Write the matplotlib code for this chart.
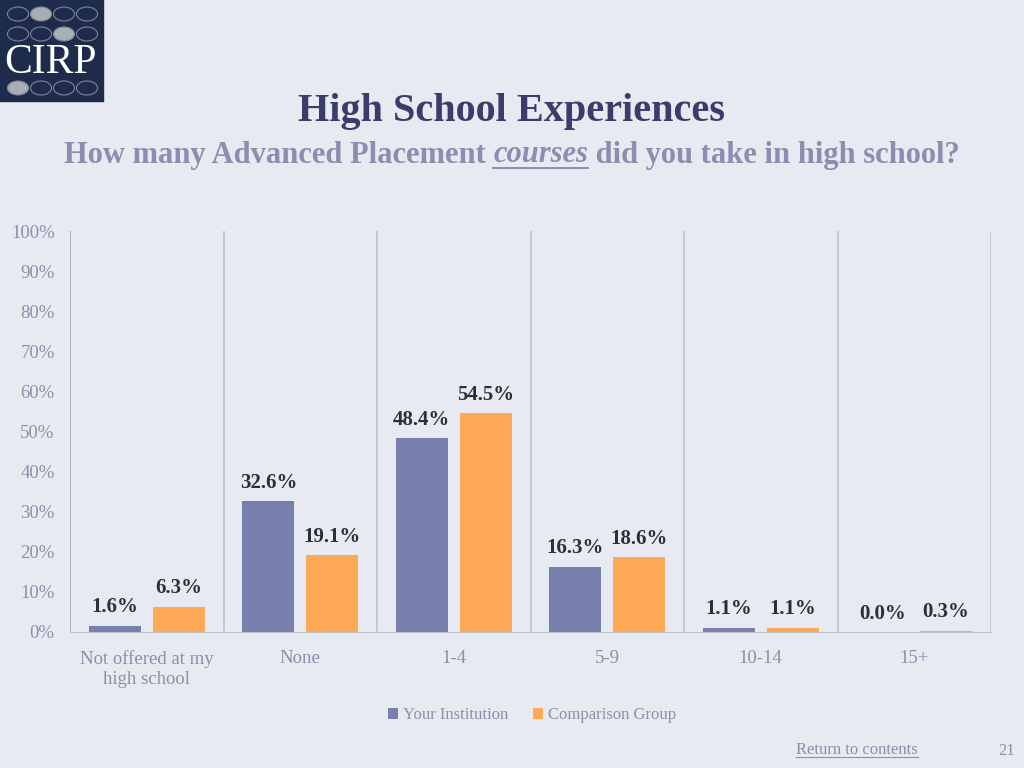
import numpy as np
import matplotlib
matplotlib.use("Agg")
import matplotlib.pyplot as plt
from matplotlib.patches import Rectangle, Ellipse
from matplotlib.lines import Line2D

# ---------------- DATA ----------------
categories = ["Not offered at my\nhigh school", "None", "1-4", "5-9", "10-14", "15+"]
your_inst = [1.6, 32.6, 48.4, 16.3, 1.1, 0.0]
comparison = [6.3, 19.1, 54.5, 18.6, 1.1, 0.3]
series_names = ["Your Institution", "Comparison Group"]
yticks = [0, 10, 20, 30, 40, 50, 60, 70, 80, 90, 100]

# ---------------- STYLE ----------------
BG = "#E7EAF1"
BLUE = "#7880AE"
ORANGE = "#FDA955"
NAVY = "#3A3D6B"
SUB = "#8A8EB0"
TICK = "#8C8FAA"
LABEL = "#2B2E3F"
SEP = "#BDC0CC"
plt.rcParams['font.family'] = ['Liberation Serif', 'DejaVu Serif']

fig = plt.figure(figsize=(10.24, 7.68), dpi=100, facecolor=BG)
ax = fig.add_axes([70/1024, 1 - 632/768, 921/1024, 401/768])
ax.set_facecolor(BG)

x = np.arange(len(categories))
w = 0.339
off = 0.208
b1 = ax.bar(x - off, your_inst, w, color=BLUE, label=series_names[0])
b2 = ax.bar(x + off, comparison, w, color=ORANGE, label=series_names[1])

for bars, vals in ((b1, your_inst), (b2, comparison)):
    for r, v in zip(bars, vals):
        ax.annotate(f"{v:.1f}%", (r.get_x() + r.get_width()/2, v),
                    xytext=(0, 6), textcoords="offset points",
                    ha="center", va="bottom", fontsize=15, fontweight="bold", color=LABEL)

ax.set_xlim(-0.5, len(categories) - 0.5)
ax.set_ylim(0, 100)
ax.set_yticks(yticks)
ax.set_yticklabels([f"{t}%" for t in yticks], fontsize=13.5, color=TICK)
ax.set_xticks(x)
ax.set_xticklabels(categories, fontsize=13.5, color=TICK, linespacing=1.2)
ax.tick_params(axis="x", length=0, pad=13)
ax.tick_params(axis="y", length=0, pad=11)
for s in ["top", "right", "left"]:
    ax.spines[s].set_visible(False)
ax.spines["bottom"].set_color(SEP)
for b in np.arange(-0.5, len(categories), 1.0):
    ax.axvline(b, color=SEP if b > -0.5 else "#9A9DB3", lw=1.1)

leg = ax.legend(loc="upper center", bbox_to_anchor=(0.502, -0.15), ncol=2, frameon=False,
                fontsize=12, handlelength=0.6, handleheight=0.6, handletextpad=0.3,
                columnspacing=1.5)
for t in leg.get_texts():
    t.set_color(TICK)

# ---------------- TITLES ----------------
fig.text(511/1024, 1 - 111/768, "High School Experiences", ha="center", va="center",
         fontsize=29, fontweight="bold", color=NAVY)

renderer = fig.canvas.get_renderer()
parts = [("How many Advanced Placement ", "normal"), ("courses", "italic"),
         (" did you take in high school?", "normal")]
sub_y = 1 - 155/768
texts = []
for s, st in parts:
    t = fig.text(0, sub_y, s, fontsize=22, fontweight="bold", style=st, color=SUB, va="center")
    texts.append(t)
widths = [t.get_window_extent(renderer).width for t in texts]
total = sum(widths)
xpos = 512 - total / 2
for t, wd in zip(texts, widths):
    t.set_x(xpos / 1024)
    if t.get_text() == "courses":
        fig.add_artist(Line2D([xpos/1024, (xpos + wd)/1024], [1 - 168/768]*2,
                              color=SUB, lw=1.4))
    xpos += wd

# ---------------- LOGO ----------------
fig.add_artist(Rectangle((0, 1 - 101/768), 103/1024, 101/768, color="#1E2B4A",
                         transform=fig.transFigure))
fills = [[0, 1, 0, 0], [0, 0, 1, 0], [1, 0, 0, 0]]
rows_y = [14, 34, 88]
for ri, ry in enumerate(rows_y):
    for ci in range(4):
        cx = 18 + ci * 23
        fc = "#A7AEB6" if fills[ri][ci] else "none"
        fig.add_artist(Ellipse((cx/1024, 1 - ry/768), 21/1024, 14/768, transform=fig.transFigure,
                               facecolor=fc, edgecolor="#7C8798", lw=0.8))
fig.text(51/1024, 1 - 63/768, "CIRP", ha="center", va="center", fontsize=30, color="white")

# ---------------- FOOTER ----------------
ft = fig.text(857/1024, 1 - 750/768, "Return to contents", ha="center", va="center",
              fontsize=12, color=TICK)
fw = ft.get_window_extent(renderer).width
fig.add_artist(Line2D([(857 - fw/2)/1024, (857 + fw/2)/1024], [1 - 757/768]*2, color=TICK, lw=0.8))
fig.text(1007/1024, 1 - 751/768, "21", ha="center", va="center", fontsize=12, color=TICK)

fig.savefig("out.png", dpi=100, facecolor=BG)
